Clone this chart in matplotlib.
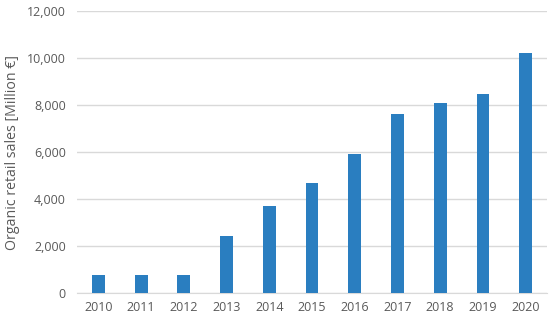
import matplotlib.pyplot as plt
from matplotlib.ticker import FuncFormatter

years = ['2010', '2011', '2012', '2013', '2014', '2015', '2016', '2017', '2018', '2019', '2020']
sales = [780, 780, 780, 2420, 3690, 4700, 5900, 7630, 8070, 8480, 10220]

plt.rcParams['font.family'] = ['Open Sans', 'DejaVu Sans']

fig = plt.figure(figsize=(5.5, 3.2), dpi=100)
ax = fig.add_axes([77 / 550, 1 - 293 / 320, 470 / 550, 282 / 320])

x = range(len(years))
ax.bar(x, sales, width=0.3, color='#2A7EC0', zorder=3)

ax.set_xlim(-0.5, len(years) - 0.5)
ax.set_ylim(0, 12000)
ax.set_yticks(range(0, 12001, 2000))
ax.yaxis.set_major_formatter(FuncFormatter(lambda v, p: f'{int(v):,}'))
ax.set_xticks(list(x))
ax.set_xticklabels(years)

ax.grid(axis='y', color='#D9D9D9', linewidth=1, zorder=0)
for s in ['top', 'right', 'left']:
    ax.spines[s].set_visible(False)
ax.spines['bottom'].set_color('#D9D9D9')
ax.tick_params(length=0, colors='#595959', labelsize=9)
ax.tick_params(axis='x', pad=6)
ax.tick_params(axis='y', pad=8)
ax.set_ylabel('Organic retail sales [Million \u20ac]', color='#595959', fontsize=10.2, labelpad=5)

fig.savefig('out.png', dpi=100)
